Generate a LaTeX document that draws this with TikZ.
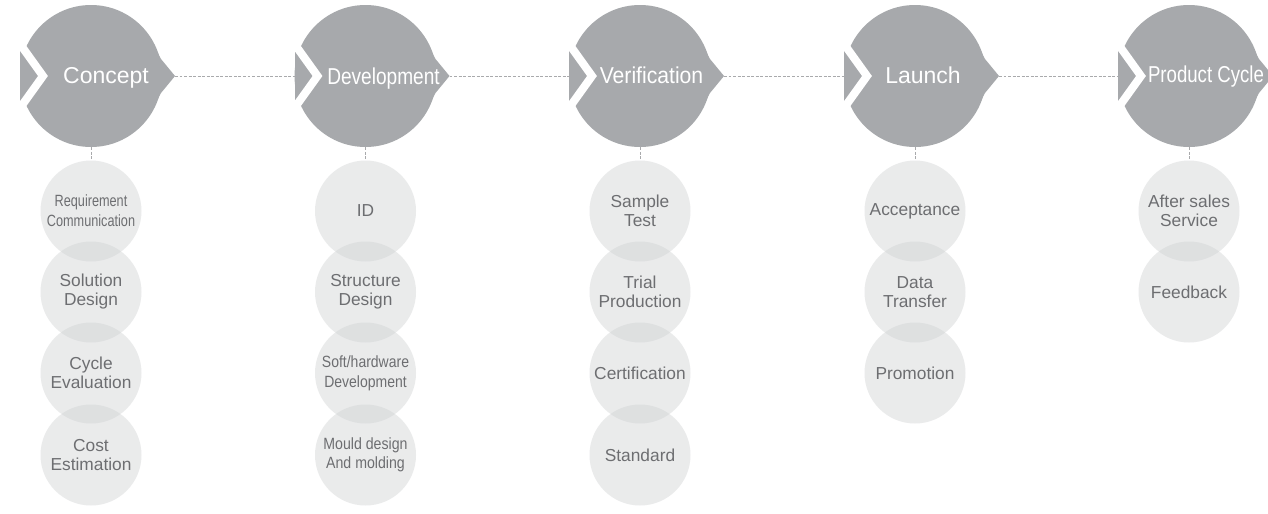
\documentclass[tikz,border=0pt]{standalone}
\usepackage{fontspec}
\setmainfont{Liberation Sans}
\usepackage{graphicx}
\definecolor{bigc}{HTML}{A7A9AC}
\definecolor{subf}{HTML}{D1D3D4}
\definecolor{subt}{HTML}{6D6E71}
\definecolor{dotc}{HTML}{A9AAAC}
\tikzset{
  bigcirc/.style={circle, fill=bigc, minimum size=106.5pt, inner sep=0pt},
  bigtext/.style={text=white, font=\fontsize{17.25}{20}\selectfont, anchor=base, inner sep=0pt},
  subcirc/.style={circle, fill=subf, fill opacity=0.45, text opacity=1, text=subt,
    minimum size=75.75pt, inner sep=0pt, align=center, font=\fontsize{13}{14.25}\selectfont},
  condtext/.style={font=\fontsize{12.2}{15}\selectfont},
  link/.style={draw=dotc, line width=0.6pt, dash pattern=on 2.2pt off 1.2pt},
  chev/.style={draw=white, line width=6pt, miter limit=10}
}
\newcommand\cond[2]{\scalebox{#1}[1]{#2}}
\newcommand\stage[6]{%
  \node[bigcirc] (#1) at (#2,76) {};
  \fill[bigc] (#2+60,40) -- (#2+63,46) .. controls (#2+66,53) .. (#2+70,59) -- (#2+84,76)
    -- (#2+70,93) .. controls (#2+66,99) .. (#2+63,106) -- (#2+60,112) -- cycle;
  \fill[bigc] (#2-71,50) rectangle (#2-60,102);
  \draw[chev] (#2-76,37) -- (#2-48,76) -- (#2-76,115);
  \coordinate (#1-in) at (#2-71,76);
  \coordinate (#1-out) at (#2+84,76);
  \node[bigtext] (#1-t) at (#2+#4,#5) {\scalebox{#6}[1]{#3}};
}
\begin{document}
\begin{tikzpicture}[x=0.75pt, y=-0.75pt]
\useasboundingbox (0,0) rectangle (1268,514);
\fill[white] (0,0) rectangle (1268,514);
\clip (0,0) rectangle (1268,514);

\stage{concept}{91}{Concept}{15}{83}{1}
\stage{devel}{365.5}{Development}{18}{84.5}{0.83}
\stage{verif}{640}{Verification}{11.5}{83.5}{0.92}
\stage{launch}{915}{Launch}{8}{83}{1}
\stage{prod}{1189}{Product Cycle}{17}{82}{0.81}

% Concept column
\node[subcirc, condtext] (c1) at (91,211) {\cond{.78}{Requirement}\\\cond{.78}{Communication}};
\node[subcirc] (c2) at (91,292) {Solution\\Design};
\node[subcirc] (c3) at (91,373) {Cycle\\Evaluation};
\node[subcirc] (c4) at (91,455) {Cost\\Estimation};

% Development column
\node[subcirc] (d1) at (365.5,211) {ID};
\node[subcirc] (d2) at (365.5,292) {Structure\\Design};
\node[subcirc, condtext] (d3) at (365.5,373) {\cond{.86}{Soft/hardware}\\\cond{.86}{Development}};
\node[subcirc, condtext, font=\fontsize{12.2}{14}\selectfont] (d4) at (365.5,455) {\cond{.87}{Mould design}\\\cond{.87}{And molding}};

% Verification column
\node[subcirc] (v1) at (640,211) {Sample\\Test};
\node[subcirc] (v2) at (640,292) {Trial\\Production};
\node[subcirc] (v3) at (640,373) {Certification};
\node[subcirc] (v4) at (640,455) {Standard};

% Launch column
\node[subcirc] (l1) at (915,211) {Acceptance};
\node[subcirc] (l2) at (915,292) {Data\\Transfer};
\node[subcirc] (l3) at (915,373) {Promotion};

% Product cycle column
\node[subcirc] (p1) at (1189,211) {After sales\\Service};
\node[subcirc] (p2) at (1189,292) {Feedback};

% connectors
\draw[link] (concept-out) -- (devel-in);
\draw[link] (devel-out) -- (verif-in);
\draw[link] (verif-out) -- (launch-in);
\draw[link] (launch-out) -- (prod-in);
\draw[link] (concept.south) -- (c1.north);
\draw[link] (devel.south) -- (d1.north);
\draw[link] (verif.south) -- (v1.north);
\draw[link] (launch.south) -- (l1.north);
\draw[link] (prod.south) -- (p1.north);
\end{tikzpicture}
\end{document}
